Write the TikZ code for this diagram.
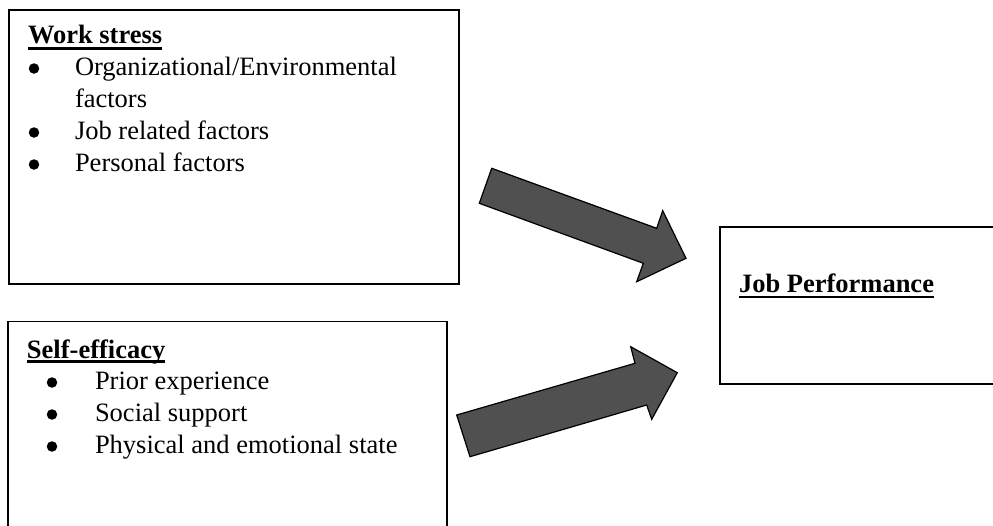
\documentclass[tikz,border=0pt]{standalone}
\usepackage{fontspec}
\setmainfont{Liberation Serif}
\definecolor{arrowgray}{HTML}{505050}
\begin{document}
\begin{tikzpicture}[x=1pt,y=-1pt,
  txt/.style={inner sep=0pt,outer sep=0pt,font=\fontsize{26.5}{32}\selectfont},
  head/.style={txt,font=\fontsize{26.5}{32}\selectfont\bfseries,anchor=base west},
  item/.style={txt,anchor=base west},
  bul/.style={circle,fill=black,inner sep=0pt,minimum size=10.5pt},
  boxframe/.style={draw=black,line width=1.6pt,inner sep=0pt,anchor=north west},
  uline/.style={line width=2.3pt},
  blockarrow/.style={fill=arrowgray,draw=black,line width=1.2pt,line join=miter}]
\useasboundingbox (0,0) rectangle (993,525);
\clip (0,0) rectangle (993,525);
% boxes
\node[boxframe,minimum width=450pt,minimum height=274pt] (ws) at (8,9) {};
\node[boxframe,minimum width=439pt,minimum height=230pt] (se) at (7,320.7) {};
\node[boxframe,minimum width=300pt,minimum height=157pt] (jp) at (719,226) {};
% Work stress box text
\node[head] (h1) at (28,43) {Work stress};
\draw[uline] ([yshift=-5.5pt]h1.base west) -- ([yshift=-5.5pt]h1.base east);
\node[bul] (b11) at (34,68.5) {};
\node[item] (t11) at (75,75) {Organizational/Environmental};
\node[item] (t11b) at (75,107) {factors};
\node[bul] (b12) at (34,132.5) {};
\node[item] (t12) at (75,139) {Job related factors};
\node[bul] (b13) at (34,164.5) {};
\node[item] (t13) at (75,171) {Personal factors};
% Self-efficacy box text
\node[head] (h2) at (27,358) {Self-efficacy};
\draw[uline] ([yshift=-3.5pt]h2.base west) -- ([yshift=-3.5pt]h2.base east);
\node[bul] (b21) at (52,382.5) {};
\node[item] (t21) at (95,389) {Prior experience};
\node[bul] (b22) at (52,414.5) {};
\node[item] (t22) at (95,421) {Social support};
\node[bul] (b23) at (52,446.5) {};
\node[item] (t23) at (95,453) {Physical and emotional state};
% Job performance
\node[head] (h3) at (739,292) {Job Performance};
\draw[uline] ([yshift=-5pt]h3.base west) -- ([yshift=-5pt]h3.base east);
% block arrows
\draw[blockarrow] (491.7,168.3) -- (656.7,228.3) -- (662.7,210.7) -- (686,258.3)
  -- (636.7,281.7) -- (643.3,263.3) -- (479.3,203.3) -- cycle;
\draw[blockarrow] (456.7,415) -- (635,363.3) -- (630.7,346.7) -- (677.3,372.7)
  -- (651.7,419.3) -- (646.7,405) -- (470,456.7) -- cycle;
\end{tikzpicture}
\end{document}
